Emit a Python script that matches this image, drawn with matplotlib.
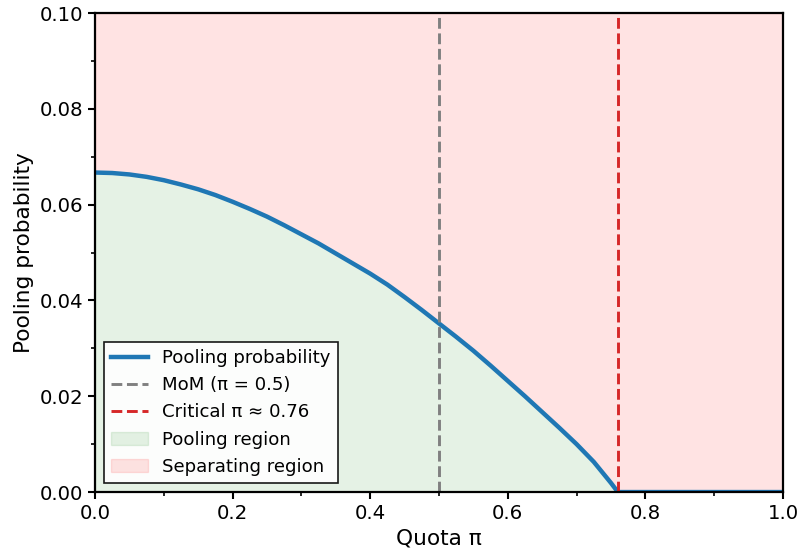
import matplotlib
matplotlib.use('Agg')
import matplotlib.pyplot as plt
from matplotlib.ticker import MultipleLocator
import numpy as np

# Значения
quota = [0.000, 0.025, 0.050, 0.075, 0.100, 0.125, 0.150, 0.175, 0.200, 0.225,
         0.250, 0.275, 0.300, 0.325, 0.350, 0.375, 0.400, 0.425, 0.450, 0.475,
         0.500, 0.525, 0.550, 0.575, 0.600, 0.625, 0.650, 0.675, 0.700, 0.725,
         0.750, 0.760, 0.800, 0.850, 0.900, 0.950, 1.000]
pooling = [0.0667, 0.0666, 0.0663, 0.0658, 0.0651, 0.0642, 0.0632, 0.0620, 0.0606, 0.0591,
           0.0575, 0.0557, 0.0538, 0.0519, 0.0498, 0.0477, 0.0456, 0.0433, 0.0407, 0.0380,
           0.0352, 0.0324, 0.0295, 0.0264, 0.0232, 0.0200, 0.0167, 0.0134, 0.0100, 0.0063,
           0.0019, 0.0, 0.0, 0.0, 0.0, 0.0, 0.0]
mom_pi = 0.5
critical_pi = 0.76
y_top = 0.10

quota = np.array(quota)
pooling = np.array(pooling)

fig, ax = plt.subplots(figsize=(8.01, 5.56), dpi=100)
fig.subplots_adjust(left=0.1186, right=0.9775, top=0.9766, bottom=0.115)

ax.fill_between(quota, 0, pooling, color='green', alpha=0.1, label='Pooling region')
ax.fill_between(quota, pooling, y_top, color='red', alpha=0.11, label='Separating region')

ax.plot(quota, pooling, color='#1f77b4', linewidth=3.2, label='Pooling probability')
ax.axvline(mom_pi, color='gray', linestyle='--', linewidth=2.1, label='MoM (π = 0.5)')
ax.axvline(critical_pi, color='#d62728', linestyle='--', linewidth=2.1,
           label=f'Critical π ≈ {critical_pi:.2f}')

ax.set_xlim(0, 1)
ax.set_ylim(0, y_top)
ax.xaxis.set_major_locator(MultipleLocator(0.2))
ax.xaxis.set_minor_locator(MultipleLocator(0.1))
ax.yaxis.set_major_locator(MultipleLocator(0.02))
ax.yaxis.set_minor_locator(MultipleLocator(0.01))
ax.tick_params(which='major', labelsize=14.2, width=1.5, length=5)
ax.tick_params(which='minor', width=1.2, length=3)
for sp in ax.spines.values():
    sp.set_linewidth(1.6)

ax.set_xlabel('Quota π', fontsize=15.6, labelpad=4)
ax.set_ylabel('Pooling probability', fontsize=15.6)

handles, labels = ax.get_legend_handles_labels()
order = [2, 3, 4, 0, 1]
leg = ax.legend([handles[i] for i in order], [labels[i] for i in order],
                loc='lower left', fontsize=13.1, fancybox=False,
                edgecolor='black', framealpha=0.9)
leg.get_frame().set_linewidth(1.2)

plt.savefig('out.png', dpi=100)
